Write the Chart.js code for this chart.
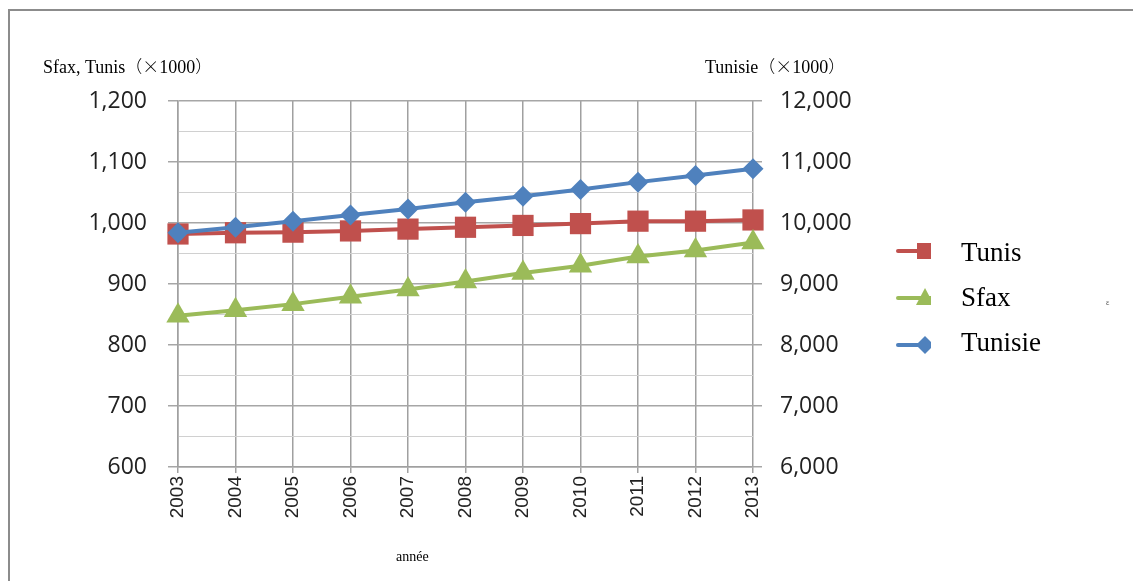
<!DOCTYPE html>
<html>
<head>
<meta charset="utf-8">
<script src="https://cdn.jsdelivr.net/npm/chart.js@4"></script>
<style>
  html, body { margin: 0; padding: 0; background: #ffffff; }
  #wrap { width: 1133px; height: 581px; }
</style>
</head>
<body>
<div id="wrap"><canvas id="c" width="1133" height="581"></canvas></div>
<script>
// Population, thousands of inhabitants
const years = ['2003', '2004', '2005', '2006', '2007', '2008', '2009', '2010', '2011', '2012', '2013'];
const tunis = [982, 984, 985, 987, 990, 993, 996, 999, 1003, 1003, 1005];
const sfax = [848, 857, 867, 879, 891, 904, 918, 930, 945, 955, 968];
const tunisie = [9840, 9930, 10030, 10130, 10230, 10340, 10440, 10550, 10670, 10780, 10890];

const leftTicks = [600, 700, 800, 900, 1000, 1100, 1200];
const rightTicks = [6000, 7000, 8000, 9000, 10000, 11000, 12000];

const RED = '#c0504d';
const GREEN = '#9bbb59';
const BLUE = '#4f81bd';

const serif = '"Liberation Serif", "Times New Roman", serif';
const cjk = '"Noto Sans CJK SC", sans-serif';
const fmt = v => v.toLocaleString('en-US');

// white page with the grey frame
const framePlugin = {
  id: 'frame',
  beforeDraw(chart) {
    const ctx = chart.ctx;
    ctx.save();
    ctx.fillStyle = '#ffffff';
    ctx.fillRect(0, 0, chart.width, chart.height);
    ctx.strokeStyle = '#8c8c8c';
    ctx.lineWidth = 2;
    ctx.strokeRect(9, 10, 1300, 800);
    ctx.restore();
  }
};

// writes a run of text pieces, each in its own font, one after another
function drawRuns(ctx, runs, x, y) {
  runs.forEach(([text, font]) => {
    ctx.font = font;
    ctx.fillText(text, x, y);
    x += ctx.measureText(text).width;
  });
}

// axis titles and the legend on the right
const labelsPlugin = {
  id: 'labels',
  afterDraw(chart) {
    const ctx = chart.ctx;
    ctx.save();
    ctx.fillStyle = '#000000';
    ctx.textBaseline = 'alphabetic';
    ctx.textAlign = 'left';
    const s18 = '18px ' + serif;
    const c18 = '300 17px ' + cjk;
    drawRuns(ctx, [['Sfax, Tunis', s18], ['（×', c18], ['1000', s18], ['）', c18]], 43, 73);
    drawRuns(ctx, [['Tunisie', s18], ['（×', c18], ['1000', s18], ['）', c18]], 705, 73);
    ctx.font = '14px ' + serif;
    ctx.fillText('année', 396, 561);

    const items = [
      { ds: 0, y: 251, text: 'Tunis', base: 261 },
      { ds: 1, y: 298, text: 'Sfax', base: 306 },
      { ds: 2, y: 345, text: 'Tunisie', base: 351 }
    ];
    items.forEach(it => {
      const d = chart.data.datasets[it.ds];
      ctx.save();
      ctx.beginPath();
      ctx.rect(880, it.y - 20, 51, 40);
      ctx.clip();
      ctx.strokeStyle = d.borderColor;
      ctx.lineWidth = 4;
      ctx.lineCap = 'round';
      ctx.beginPath();
      ctx.moveTo(898, it.y);
      ctx.lineTo(931, it.y);
      ctx.stroke();
      ctx.fillStyle = d.pointBackgroundColor;
      const cx = 925;
      ctx.beginPath();
      if (d.pointStyle === 'rect') {
        ctx.rect(cx - 8, it.y - 8, 16, 16);
      } else if (d.pointStyle === 'triangle') {
        ctx.moveTo(cx, it.y - 10);
        ctx.lineTo(cx + 9, it.y + 7);
        ctx.lineTo(cx - 9, it.y + 7);
        ctx.closePath();
      } else {
        ctx.moveTo(cx, it.y - 9);
        ctx.lineTo(cx + 9, it.y);
        ctx.lineTo(cx, it.y + 9);
        ctx.lineTo(cx - 9, it.y);
        ctx.closePath();
      }
      ctx.fill();
      ctx.restore();
      ctx.fillStyle = '#000000';
      ctx.font = '27px ' + serif;
      ctx.fillText(it.text, 961, it.base);
    });
    ctx.font = '8px ' + serif;
    ctx.fillStyle = '#555555';
    ctx.fillText('ε', 1106, 305);
    ctx.restore();
  }
};

const isMajor = v => v % 100 === 0;

new Chart(document.getElementById('c'), {
  type: 'line',
  data: {
    labels: years,
    datasets: [
      {
        label: 'Tunis', data: tunis, yAxisID: 'y',
        borderColor: RED, backgroundColor: RED, pointBackgroundColor: RED,
        pointBorderColor: RED, pointStyle: 'rect', pointRadius: 15, pointBorderWidth: 0,
        borderWidth: 4, order: 3, clip: false
      },
      {
        label: 'Sfax', data: sfax, yAxisID: 'y',
        borderColor: GREEN, backgroundColor: GREEN, pointBackgroundColor: GREEN,
        pointBorderColor: GREEN, pointStyle: 'triangle', pointRadius: 13.5, pointBorderWidth: 0,
        borderWidth: 4, order: 2, clip: false
      },
      {
        label: 'Tunisie', data: tunisie, yAxisID: 'y1',
        borderColor: BLUE, backgroundColor: BLUE, pointBackgroundColor: BLUE,
        pointBorderColor: BLUE, pointStyle: 'rectRot', pointRadius: 10.5, pointBorderWidth: 0,
        borderWidth: 4, order: 1, clip: false
      }
    ]
  },
  options: {
    responsive: false,
    animation: false,
    devicePixelRatio: 1,
    layout: { padding: { top: 101, left: 0, right: 0, bottom: 0 } },
    plugins: { legend: { display: false }, tooltip: { enabled: false } },
    elements: { line: { tension: 0 } },
    scales: {
      x: {
        type: 'category',
        offset: false,
        afterFit(s) { s.height = 114; },
        grid: { color: '#a0a0a0', lineWidth: 1.5, tickLength: 6, tickColor: '#a0a0a0' },
        border: { color: '#a0a0a0', width: 1.5 },
        ticks: {
          minRotation: 90, maxRotation: 90, autoSkip: false, padding: 3,
          color: '#222222', font: { family: '"Liberation Sans", Arial, sans-serif', size: 19 }
        }
      },
      y: {
        position: 'left',
        min: leftTicks[0], max: leftTicks[leftTicks.length - 1],
        afterFit(s) { s.width = 178; },
        afterBuildTicks(s) {
          const t = [];
          for (let v = leftTicks[0]; v <= leftTicks[leftTicks.length - 1]; v += 50) t.push({ value: v });
          s.ticks = t;
        },
        grid: {
          color: c => isMajor(c.tick.value) ? '#a6a6a6' : '#d0d0d0',
          lineWidth: c => isMajor(c.tick.value) ? 1.5 : 1,
          tickColor: c => isMajor(c.tick.value) ? '#a6a6a6' : 'rgba(0,0,0,0)',
          tickLength: 10
        },
        border: { color: '#a0a0a0', width: 1.5 },
        ticks: {
          autoSkip: false, padding: 21, color: '#222222',
          font: { family: '"Open Sans", sans-serif', size: 23 },
          callback: v => leftTicks.includes(v) ? fmt(v) : ''
        }
      },
      y1: {
        position: 'right',
        min: rightTicks[0], max: rightTicks[rightTicks.length - 1],
        afterFit(s) { s.width = 380; },
        afterBuildTicks(s) { s.ticks = rightTicks.map(v => ({ value: v })); },
        grid: { drawOnChartArea: false, color: '#a6a6a6', lineWidth: 1.5, tickLength: 9 },
        border: { display: false },
        ticks: {
          autoSkip: false, padding: 18, color: '#222222',
          font: { family: '"Open Sans", sans-serif', size: 23 },
          callback: v => fmt(v)
        }
      }
    }
  },
  plugins: [framePlugin, labelsPlugin]
});
</script>
</body>
</html>
